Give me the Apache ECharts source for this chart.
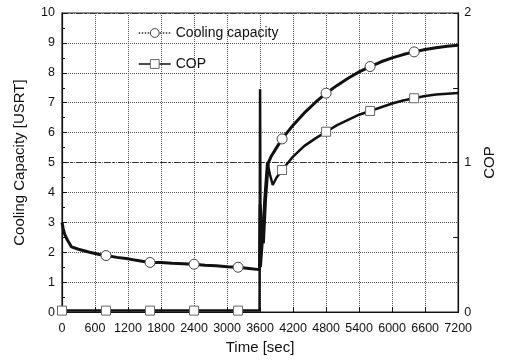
<!DOCTYPE html>
<html><head><meta charset="utf-8">
<script src="https://cdn.jsdelivr.net/npm/echarts@6/dist/echarts.min.js"></script>
<style>html,body{margin:0;padding:0;background:#fff}#c{width:505px;height:360px}</style>
</head><body><div id="c"></div>
<script>
// Time [sec]
const capTime = [0,20,50,100,150,170,200,300,400,500,600,700,800,1000,1200,1400,1600,1800,2000,2200,2400,2600,2800,3000,3200,3400,3590,3600,3620,3660,3700,3750,3800,3900,4000,4200,4400,4600,4800,5000,5200,5400,5600,5800,6000,6200,6400,6600,6800,7000,7200];
// Cooling capacity [USRT]
const capValue = [3.0,2.8,2.6,2.4,2.25,2.18,2.15,2.1,2.05,2.0,1.96,1.92,1.89,1.83,1.78,1.72,1.66,1.66,1.63,1.62,1.60,1.57,1.55,1.52,1.50,1.46,1.42,3.6,3.2,2.3,3.8,5.0,5.2,5.5,5.79,6.25,6.65,7.0,7.32,7.58,7.82,8.03,8.21,8.37,8.5,8.61,8.70,8.78,8.84,8.89,8.92];
const capMarkers = [800,1600,2400,3200,4000,4800,5600,6400];

const copTime = [0,400,800,1200,1600,2000,2400,2800,3200,3590,3600,3610,3640,3680,3730,3780,3830,3900,4000,4200,4400,4600,4800,5000,5200,5400,5600,5800,6000,6200,6400,6600,6800,7000,7200];
const copValue = [0.01,0.01,0.01,0.01,0.01,0.01,0.01,0.01,0.01,0.01,1.49,0.3,0.45,0.75,1.0,0.92,0.85,0.9,0.95,1.04,1.11,1.16,1.206,1.25,1.285,1.32,1.345,1.37,1.395,1.415,1.43,1.445,1.455,1.46,1.465];
const copMarkers = [0,800,1600,2400,3200,4000,4800,5600,6400];

const xTicks = {min:0, max:7200, interval:600};
const leftTicks = {min:0, max:10, interval:1};
const rightTicks = {min:0, max:2, interval:1};

const FONT = '"Liberation Sans", Arial, sans-serif';

function build(times, vals, marks){
  return times.map((t,i)=> marks.indexOf(t)>=0 ? {value:[t,vals[i]]} : {value:[t,vals[i]], symbol:'none'});
}

const chart = echarts.init(document.getElementById('c'), null, {renderer:'canvas'});
chart.setOption({
  animation:false,
  backgroundColor:'#fff',
  textStyle:{fontFamily:FONT},
  grid:{left:62, right:41, top:13, bottom:42, show:true, borderColor:'#222', borderWidth:1.2},
  legend:{
    orient:'vertical', left:133, top:21, itemWidth:32, itemHeight:11, itemGap:17,
    textStyle:{fontFamily:FONT, fontSize:14, color:'#111'},
    data:[
      {name:'Cooling capacity', lineStyle:{type:'dotted', width:1.5, color:'#333'}, itemStyle:{color:'#fff', borderColor:'#444', borderWidth:1}},
      {name:'COP', lineStyle:{type:'solid', width:1.5, color:'#111'}, itemStyle:{color:'#fff', borderColor:'#666', borderWidth:1}}
    ]
  },
  xAxis:{
    type:'value', min:xTicks.min, max:xTicks.max, interval:xTicks.interval,
    name:'Time [sec]', nameLocation:'middle', nameGap:23,
    nameTextStyle:{fontFamily:FONT, fontSize:15, color:'#111'},
    axisLine:{onZero:false, lineStyle:{color:'#111', width:1.2}},
    axisTick:{inside:true, length:5, lineStyle:{color:'#111'}},
    axisLabel:{fontFamily:FONT, fontSize:12.5, color:'#111', margin:10, formatter:v=>String(v)},
    splitLine:{show:true, lineStyle:{type:'dotted', color:'#555', width:1}}
  },
  yAxis:[{
    type:'value', min:leftTicks.min, max:leftTicks.max, interval:leftTicks.interval,
    name:'Cooling Capacity [USRT]', nameLocation:'middle', nameGap:35, nameRotate:90,
    nameTextStyle:{fontFamily:FONT, fontSize:15, color:'#111'},
    axisLine:{show:true, lineStyle:{color:'#111', width:1.2}},
    axisTick:{inside:true, length:5, lineStyle:{color:'#111'}},
    minorTick:{show:true, splitNumber:2, length:3, lineStyle:{color:'#111'}},
    axisLabel:{fontFamily:FONT, fontSize:12.5, color:'#111', margin:7},
    splitLine:{show:true, lineStyle:{type:'dotted', color:'#555', width:1}}
  },{
    type:'value', position:'right', min:rightTicks.min, max:rightTicks.max, interval:rightTicks.interval,
    name:'COP', nameLocation:'middle', nameGap:22, nameRotate:90,
    nameTextStyle:{fontFamily:FONT, fontSize:15, color:'#111'},
    axisLine:{show:true, lineStyle:{color:'#111', width:1.2}},
    axisTick:{inside:true, length:5, lineStyle:{color:'#111'}},
    minorTick:{show:true, splitNumber:2, length:5, lineStyle:{color:'#111'}},
    axisLabel:{fontFamily:FONT, fontSize:12.5, color:'#111', margin:6},
    splitLine:{show:true, lineStyle:{type:[6,3,2,3], color:'#333', width:1}}
  }],
  series:[{
    name:'Cooling capacity', type:'line', yAxisIndex:0,
    data: build(capTime, capValue, capMarkers),
    symbol:'circle', symbolSize:10, showAllSymbol:true,
    lineStyle:{color:'#111', width:3},
    itemStyle:{color:'#fff', borderColor:'#444', borderWidth:1}
  },{
    name:'COP', type:'line', yAxisIndex:1,
    data: build(copTime, copValue, copMarkers),
    symbol:'rect', symbolSize:9, showAllSymbol:true,
    lineStyle:{color:'#111', width:2.5},
    itemStyle:{color:'#fff', borderColor:'#666', borderWidth:1}
  }]
});
</script></body></html>
